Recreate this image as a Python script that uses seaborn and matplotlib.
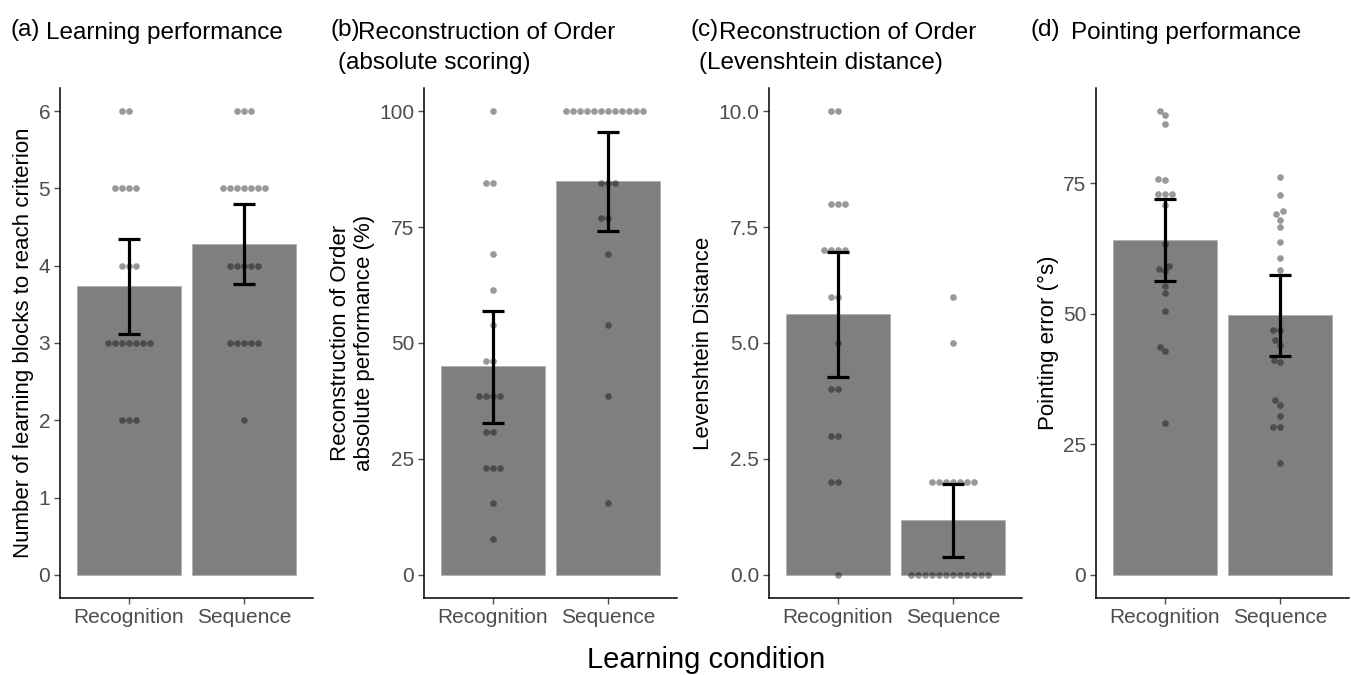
import numpy as np
import pandas as pd
import seaborn as sns
import matplotlib
matplotlib.use("Agg")
import matplotlib.pyplot as plt

conditions = ["Recognition", "Sequence"]

# (a) learning blocks to criterion
blocks_rec = [6, 6, 5, 5, 5, 5, 4, 4, 4, 3, 3, 3, 3, 3, 3, 3, 2, 2, 2]
blocks_seq = [6, 6, 6, 5, 5, 5, 5, 5, 5, 5, 4, 4, 4, 4, 4, 3, 3, 3, 3, 3, 2]
blocks_ci = [(3.11, 4.35), (3.76, 4.80)]

# (b) absolute scoring (%)
abs_rec = [100, 84.6, 84.6, 69.2, 61.5, 53.8, 46.2, 46.2, 38.5, 38.5, 38.5, 38.5,
           30.8, 30.8, 23.1, 23.1, 23.1, 15.4, 7.7]
abs_seq = [100] * 12 + [84.6, 84.6, 84.6, 76.9, 76.9, 69.2, 53.8, 38.5, 15.4]
abs_ci = [(32.7, 56.9), (74.1, 95.5)]

# (c) Levenshtein distance
lev_rec = [10, 10, 8, 8, 8, 7, 7, 7, 7, 6, 6, 5, 4, 4, 3, 3, 2, 2, 0]
lev_seq = [6, 5] + [2] * 7 + [0] * 12
lev_ci = [(4.27, 6.97), (0.39, 1.96)]

# (d) pointing error
point_rec = [88.8, 88.0, 86.3, 75.9, 75.7, 73.0, 73.0, 72.9, 70.9, 63.3, 59.2, 58.6,
             58.1, 55.3, 54.0, 50.6, 43.7, 42.8, 29.0]
point_seq = [76.1, 72.8, 69.6, 69.1, 68.0, 66.6, 63.8, 60.7, 58.4, 46.9, 46.9, 45.0,
             44.1, 41.2, 40.7, 33.4, 32.5, 30.4, 28.3, 28.3, 21.5]
point_ci = [(56.3, 71.9), (41.9, 57.5)]

panels = [
    ("(a)", ["Learning performance"], "Number of learning blocks to reach criterion",
     blocks_rec, blocks_seq, blocks_ci, (-0.3, 6.3), [0, 1, 2, 3, 4, 5, 6], "{:.0f}"),
    ("(b)", ["Reconstruction of Order", "(absolute scoring)"],
     "Reconstruction of Order\nabsolute performance (%)",
     abs_rec, abs_seq, abs_ci, (-5, 105), [0, 25, 50, 75, 100], "{:.0f}"),
    ("(c)", ["Reconstruction of Order", "(Levenshtein distance)"], "Levenshtein Distance",
     lev_rec, lev_seq, lev_ci, (-0.5, 10.5), [0, 2.5, 5, 7.5, 10], "{:.1f}"),
    ("(d)", ["Pointing performance"], "Pointing error (°s)",
     point_rec, point_seq, point_ci, (-4.44, 93.24), [0, 25, 50, 75], "{:.0f}"),
]

sns.set_theme(style="white")
plt.rcParams["font.family"] = ["Liberation Sans", "DejaVu Sans"]

W, H = 1351, 675
fig = plt.figure(figsize=(W / 100, H / 100), dpi=100)

lefts = [60, 424, 769, 1096]
title_x = [(10, 46, None), (330, 358, 338), (690, 719, 699), (1030, 1071, None)]

for i, (tag, title, ylab, rec, seq, ci, ylim, yticks, fmt) in enumerate(panels):
    ax = fig.add_axes([lefts[i] / W, 1 - 598 / H, 253 / W, 510 / H])
    df = pd.DataFrame({
        "cond": [conditions[0]] * len(rec) + [conditions[1]] * len(seq),
        "val": list(rec) + list(seq),
    })
    sns.barplot(data=df, x="cond", y="val", order=conditions, color="#7f7f7f",
                saturation=1, width=0.9, errorbar=None, edgecolor="#b0b0b0",
                linewidth=0.6, ax=ax)
    sns.swarmplot(data=df, x="cond", y="val", order=conditions, color="black",
                  alpha=0.4, size=4.8, linewidth=0, ax=ax)
    means = df.groupby("cond")["val"].mean().reindex(conditions).values
    lo = np.array([c[0] for c in ci])
    hi = np.array([c[1] for c in ci])
    ax.errorbar([0, 1], means, yerr=[means - lo, hi - means], fmt="none",
                ecolor="black", elinewidth=2.3, capsize=8, capthick=2.3, zorder=5)

    ax.set_xlim(-0.6, 1.6)
    ax.set_ylim(*ylim)
    ax.set_yticks(yticks)
    ax.set_yticklabels([fmt.format(t) for t in yticks])
    ax.set_xlabel("")
    ax.set_ylabel(ylab, fontsize=16, color="black", labelpad=3)
    ax.tick_params(axis="both", labelsize=15, colors="#4d4d4d", length=4, width=1,
                   direction="out", bottom=True, left=True, pad=3)
    for s in ["top", "right"]:
        ax.spines[s].set_visible(False)
    for s in ["left", "bottom"]:
        ax.spines[s].set_color("black")
        ax.spines[s].set_linewidth(1.1)

    tx_tag, tx1, tx2 = title_x[i]
    fig.text(tx_tag / W, 1 - 36 / H, tag, fontsize=17.5, va="baseline", ha="left",
             color="black")
    fig.text(tx1 / W, 1 - 39 / H, title[0], fontsize=17.5, va="baseline", ha="left",
             color="black")
    if len(title) > 1:
        fig.text(tx2 / W, 1 - 69 / H, title[1], fontsize=17.5, va="baseline",
                 ha="left", color="black")

fig.text(706 / W, 1 - 660 / H, "Learning condition", fontsize=21, ha="center",
         va="center", color="black")

fig.savefig("out.png", dpi=100)
